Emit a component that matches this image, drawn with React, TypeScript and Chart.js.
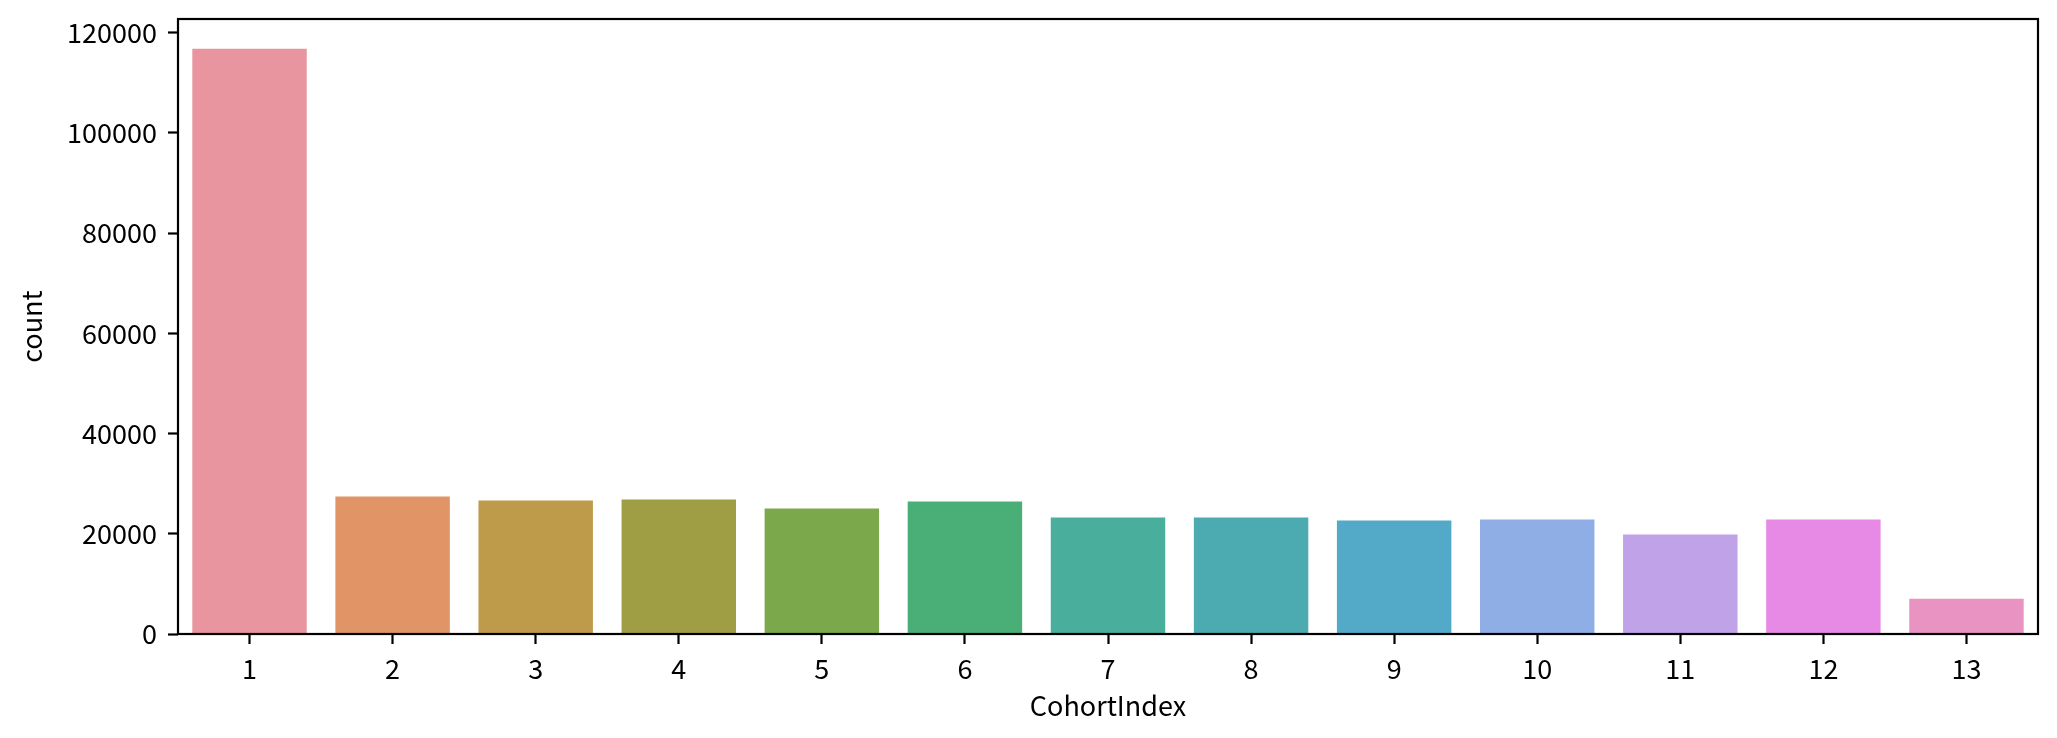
import React, { useEffect, useRef } from "react";
import { Chart, registerables } from "chart.js";

Chart.register(...registerables);

const categories = ["1", "2", "3", "4", "5", "6", "7", "8", "9", "10", "11", "12", "13"];
const counts = [116750, 27450, 26650, 26850, 25050, 26450, 23250, 23250, 22650, 22850, 19850, 22850, 7050];
const barColors = [
  "#e8959f", "#e19466", "#be9a4b", "#a09e45", "#7ba84b", "#4aaf77", "#4aae9c",
  "#4caab1", "#52aac8", "#8eaee5", "#bfa2e8", "#e68ae6", "#e893c2",
];
const yTickValues = [0, 20000, 40000, 60000, 80000, 100000, 120000];
const yMax = 122700;
const xTitle = "CohortIndex";
const yTitle = "count";

const FONT = "'Noto Sans CJK KR', 'Noto Sans', sans-serif";
const FS = 27;
const LW = 2.2;

const framePlugin = {
  id: "frame",
  afterDraw(chart: any) {
    const { ctx, chartArea } = chart;
    ctx.save();
    ctx.strokeStyle = "#000";
    ctx.lineWidth = LW;
    ctx.lineJoin = "miter";
    ctx.strokeRect(chartArea.left, chartArea.top, chartArea.right - chartArea.left, chartArea.bottom - chartArea.top);
    ctx.restore();
  },
};

export default function App() {
  const ref = useRef<HTMLCanvasElement | null>(null);
  useEffect(() => {
    document.body.style.margin = "0";
    const chart = new Chart(ref.current as HTMLCanvasElement, {
      type: "bar",
      data: {
        labels: categories,
        datasets: [
          {
            data: counts,
            backgroundColor: barColors,
            borderWidth: 0,
            barPercentage: 0.8,
            categoryPercentage: 1.0,
          },
        ],
      },
      options: {
        animation: false,
        responsive: false,
        maintainAspectRatio: false,
        layout: { padding: { top: 19, right: 19, left: 0, bottom: 0 } },
        plugins: { legend: { display: false }, tooltip: { enabled: false } },
        scales: {
          x: {
            type: "category",
            offset: true,
            grid: {
              offset: false,
              drawOnChartArea: false,
              drawTicks: true,
              tickLength: 10,
              tickWidth: LW,
              tickColor: "#000",
            },
            border: { display: false },
            ticks: {
              color: "#000",
              font: { family: FONT, size: FS },
              padding: 9,
              maxRotation: 0,
              autoSkip: false,
            },
            title: {
              display: true,
              text: xTitle,
              color: "#000",
              font: { family: FONT, size: FS },
              padding: { top: 0, bottom: 16 },
            },
            afterFit: (scale: any) => {
              scale.height = 104;
              scale.paddingLeft = 0;
              scale.paddingRight = 0;
            },
          },
          y: {
            min: 0,
            max: yMax,
            grid: {
              drawOnChartArea: false,
              drawTicks: true,
              tickLength: 10,
              tickWidth: LW,
              tickColor: "#000",
            },
            border: { display: false },
            ticks: {
              color: "#000",
              font: { family: FONT, size: FS },
              padding: 11,
              stepSize: 20000,
              callback: (v: any) => String(v),
            },
            afterBuildTicks: (scale: any) => {
              scale.ticks = yTickValues.map((v) => ({ value: v }));
            },
            title: {
              display: true,
              text: yTitle,
              color: "#000",
              font: { family: FONT, size: FS },
              padding: { top: 16, bottom: 0 },
            },
            afterFit: (scale: any) => {
              scale.width = 178;
              scale.paddingTop = 0;
              scale.paddingBottom = 0;
            },
          },
        },
      },
      plugins: [framePlugin],
    });
    return () => chart.destroy();
  }, []);
  return (
    <div style={{ position: "absolute", left: 0, top: 0, width: 2057, height: 738, background: "#fff" }}>
      <canvas ref={ref} width={2057} height={738} style={{ width: 2057, height: 738 }} />
    </div>
  );
}
